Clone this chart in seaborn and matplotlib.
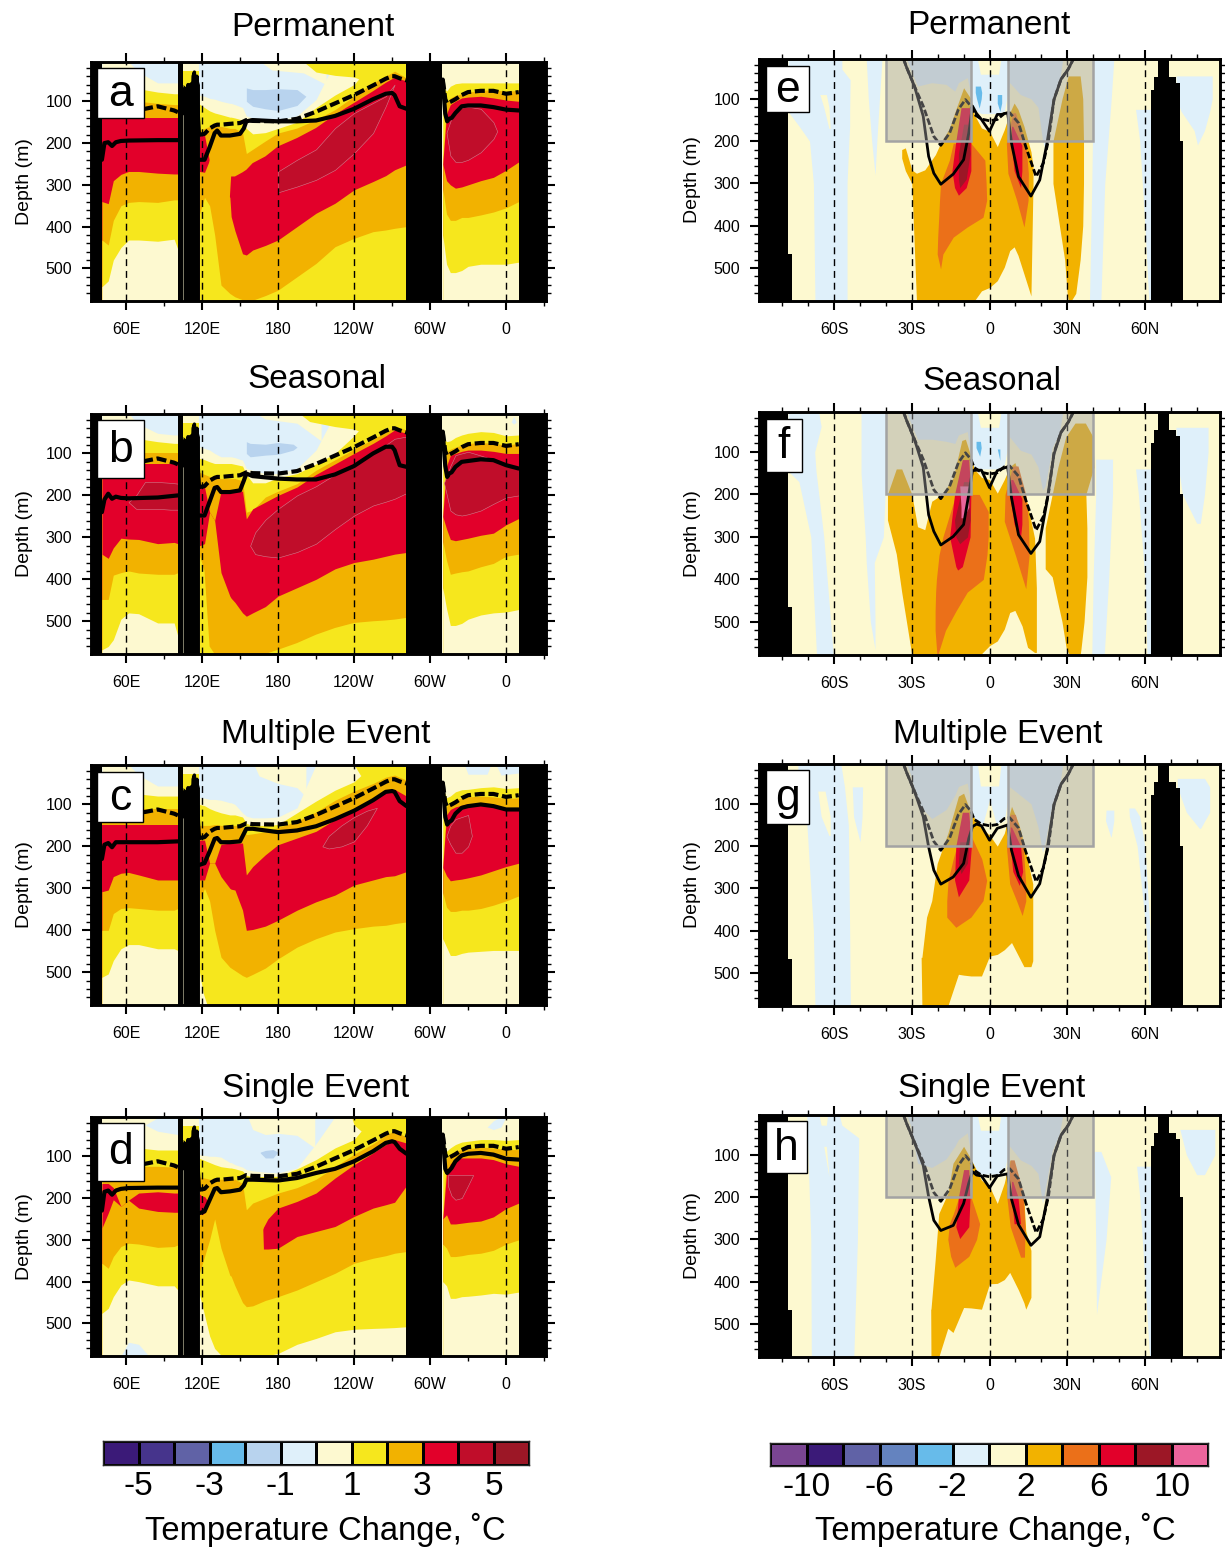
import numpy as np
import matplotlib
matplotlib.use("Agg")
import matplotlib.pyplot as plt
import seaborn as sns
from matplotlib.colors import ListedColormap
from matplotlib.patches import Rectangle
from matplotlib.ticker import MultipleLocator, FixedLocator

sns.set_style("ticks")
plt.rcParams["font.family"] = ["Liberation Sans", "DejaVu Sans"]
plt.rcParams["text.color"] = "black"
plt.rcParams["axes.labelcolor"] = "black"
plt.rcParams["xtick.color"] = "black"
plt.rcParams["ytick.color"] = "black"

W, H = 1225, 1547

# colour tables, one colour per 1 C (left) or 2 C (right) bin
LEFT_COLORS = ["#3b1a78", "#46348c", "#6062a6", "#67bbea", "#b8d3ee", "#dff0fa",
               "#fdf9d0", "#f6e71d", "#f2b200", "#e2002a", "#c00d2a", "#9c1726"]
RIGHT_COLORS = ["#7a4592", "#3b1a78", "#6062a6", "#6483bf", "#67bbea", "#dff0fa",
                "#fdf9d0", "#f2b200", "#eb7019", "#e2002a", "#9c1726", "#ec659c"]
LEFT_TICKS = [-5, -3, -1, 1, 3, 5]
RIGHT_TICKS = [-10, -6, -2, 2, 6, 10]

# ---------- equatorial section (left column): isotherm depths per basin ----------
IND_LON = [41, 46, 50, 56, 62, 70, 85, 98, 101]
PAC_LON = [118, 122, 126, 130, 135, 142, 143, 146, 152, 155, 160, 170, 180, 195, 210, 225, 240, 255, 265, 272, 281.4]
ATL_LON = [310, 313, 316, 320, 325, 330, 340, 350, 360, 370]
DEEP_PAC = [578] * 21

A_IND = [[5, 5, 5, 5, 5, 30, 56, 56, 56],
         [30, 30, 40, 50, 60, 70, 78, 82, 82],
         [100, 100, 100, 100, 100, 100, 105, 108, 108],
         [140, 140, 140, 140, 140, 140, 140, 140, 140],
         [340, 345, 290, 275, 268, 268, 272, 274, 274],
         [432, 444, 385, 350, 342, 340, 342, 336, 336],
         [544, 530, 480, 450, 432, 432, 435, 430, 455]]
B_IND = [[5, 5, 5, 5, 5, 30, 52, 56, 56],
         [30, 30, 40, 50, 60, 65, 72, 76, 76],
         [100, 100, 100, 100, 100, 100, 100, 100, 100],
         [155, 150, 135, 128, 124, 124, 124, 124, 124],
         [340, 350, 325, 302, 304, 305, 315, 312, 315],
         [448, 448, 390, 384, 380, 385, 388, 388, 384],
         [568, 560, 544, 495, 480, 482, 504, 504, 536]]
C_IND = [[5, 5, 5, 5, 5, 30, 56, 56, 56],
         [40, 40, 50, 60, 70, 75, 80, 80, 80],
         [112, 112, 112, 112, 112, 112, 112, 112, 112],
         [148, 148, 148, 148, 148, 148, 148, 148, 148],
         [308, 304, 272, 264, 262, 268, 280, 280, 280],
         [400, 400, 360, 348, 346, 348, 352, 352, 348],
         [512, 504, 472, 444, 434, 434, 444, 444, 448]]
D_IND = [[5, 5, 5, 5, 5, 5, 5, 5, 5],
         [50, 50, 60, 70, 75, 80, 85, 85, 85],
         [124, 124, 124, 124, 124, 124, 124, 126, 128],
         [165, 165, 175, 220, 205, 188, 185, 188, 188],
         [272, 236, 204, 220, 205, 224, 232, 234, 234],
         [356, 368, 340, 316, 308, 310, 318, 316, 312],
         [476, 464, 436, 408, 396, 400, 410, 410, 420]]

A_PAC = [[85, 88, 93, 95, 100, 105, 105, 108, 115, 135, 140, 145, 146, 135, 96, 5, 5, 5, 5, 5, 5],
         [107, 115, 123, 128, 132, 138, 138, 140, 145, 165, 178, 175, 165, 150, 115, 85, 60, 5, 5, 5, 5],
         [170, 165, 160, 160, 160, 165, 165, 165, 175, 225, 215, 195, 176, 164, 144, 120, 88, 56, 40, 28, 44],
         [176, 176, 240, 300, 300, 330, 280, 280, 270, 264, 248, 232, 208, 188, 164, 132, 104, 76, 56, 44, 52],
         [268, 270, 240, 300, 300, 330, 376, 410, 465, 468, 456, 445, 432, 400, 368, 344, 312, 292, 278, 264, 252],
         [370, 330, 350, 420, 540, 560, 562, 568, 575, 576, 576, 565, 552, 520, 488, 448, 428, 412, 408, 404, 400],
         DEEP_PAC]
B_PAC = [[84, 88, 92, 100, 108, 108, 108, 110, 116, 136, 140, 148, 148, 136, 92, 5, 5, 5, 5, 5, 5],
         [112, 115, 120, 124, 124, 124, 124, 126, 130, 150, 170, 170, 158, 148, 125, 100, 58, 5, 5, 5, 5],
         [145, 150, 155, 155, 160, 160, 160, 160, 165, 240, 235, 204, 190, 172, 140, 115, 90, 66, 50, 36, 44],
         [180, 180, 240, 260, 190, 190, 190, 190, 190, 256, 232, 216, 200, 180, 150, 125, 100, 76, 58, 44, 52],
         [320, 315, 240, 260, 384, 440, 445, 455, 480, 488, 480, 465, 440, 420, 400, 375, 360, 352, 345, 340, 336],
         [340, 380, 560, 578, 578, 578, 578, 578, 578, 578, 578, 578, 568, 552, 532, 516, 504, 500, 498, 496, 492],
         DEEP_PAC]
C_PAC = [[84, 85, 88, 88, 90, 96, 96, 100, 120, 128, 132, 132, 130, 108, 5, 5, 5, 5, 5, 5, 5],
         [100, 103, 110, 115, 120, 125, 125, 125, 130, 145, 150, 150, 148, 120, 92, 66, 46, 5, 5, 5, 5],
         [150, 150, 150, 148, 150, 150, 150, 150, 150, 172, 170, 165, 155, 140, 118, 90, 68, 50, 35, 30, 42],
         [185, 185, 240, 240, 195, 192, 192, 192, 192, 268, 248, 220, 196, 180, 164, 136, 112, 84, 72, 64, 80],
         [280, 280, 240, 240, 272, 300, 302, 304, 352, 400, 398, 390, 376, 352, 332, 316, 292, 280, 272, 270, 260],
         [330, 300, 330, 400, 464, 488, 490, 496, 508, 512, 505, 490, 468, 440, 420, 404, 396, 390, 388, 384, 380],
         DEEP_PAC]
D_RED_LINE = [200, 200, 220, 220, 230, 250, 250, 260, 300, 320, 320, 320, 320, 320, 300, 280, 250, 230, 215, 205, 190]
D_PAC = [[96, 98, 100, 100, 102, 115, 115, 120, 126, 132, 135, 138, 140, 128, 70, 5, 5, 5, 5, 5, 5],
         [105, 110, 115, 120, 125, 128, 128, 130, 135, 145, 150, 148, 148, 130, 108, 80, 60, 5, 5, 5, 5],
         [150, 152, 155, 155, 155, 155, 155, 155, 165, 228, 212, 200, 188, 175, 155, 125, 95, 70, 50, 38, 55],
         D_RED_LINE,
         D_RED_LINE,
         [380, 340, 300, 250, 320, 385, 387, 410, 450, 460, 458, 445, 436, 420, 400, 380, 356, 344, 338, 332, 328],
         [430, 480, 530, 560, 576, 578, 578, 578, 578, 578, 578, 578, 572, 550, 536, 520, 514, 512, 511, 510, 508]]

A_ATL = [[5] * 10,
         [60, 76, 64, 58, 56, 56, 56, 56, 56, 56],
         [240, 104, 92, 86, 82, 78, 74, 72, 76, 74],
         [250, 130, 108, 100, 92, 90, 88, 92, 97, 100],
         [250, 290, 300, 308, 305, 300, 290, 282, 265, 245],
         [310, 370, 385, 385, 378, 378, 372, 365, 355, 340],
         [420, 490, 510, 510, 505, 495, 490, 490, 490, 485]]
B_ATL = [[5] * 10,
         [60, 72, 70, 62, 56, 52, 48, 50, 58, 56],
         [240, 96, 90, 85, 80, 76, 74, 76, 80, 76],
         [250, 130, 105, 100, 95, 92, 92, 95, 100, 100],
         [250, 280, 305, 308, 305, 302, 295, 290, 270, 255],
         [310, 355, 388, 385, 382, 380, 370, 362, 345, 340],
         [420, 470, 510, 510, 505, 495, 485, 480, 478, 472]]
C_ATL = [[5] * 10,
         [60, 84, 80, 70, 65, 64, 60, 58, 62, 60],
         [240, 105, 95, 88, 85, 82, 80, 82, 86, 84],
         [250, 125, 112, 106, 102, 98, 98, 100, 108, 110],
         [250, 270, 282, 280, 278, 275, 268, 258, 248, 240],
         [310, 345, 355, 355, 352, 352, 348, 340, 330, 318],
         [420, 440, 460, 460, 455, 452, 450, 448, 448, 448]]
D_ATL = [[5] * 10,
         [60, 88, 80, 72, 66, 64, 60, 60, 62, 60],
         [240, 105, 95, 88, 84, 82, 78, 80, 84, 84],
         [250, 140, 118, 108, 104, 104, 104, 108, 118, 124],
         [250, 240, 262, 262, 260, 258, 255, 245, 225, 212],
         [310, 320, 340, 340, 338, 335, 332, 325, 310, 300],
         [400, 410, 440, 440, 436, 435, 432, 428, 430, 425]]

# patches on top of the layers: (bin, lon, top, bottom)
A_PATCHES = [(6, [166, 175, 200, 218], [0, 0, 0, 0], [5, 25, 32, 60]),
             (7, [200, 210, 225, 240, 255], [0, 0, 0, 0, 0], [5, 30, 38, 42, 60]),
             (4, [155, 160, 170, 180, 195, 202], [68, 72, 72, 70, 72, 88], [100, 112, 118, 122, 110, 88]),
             (10, [180, 195, 210, 225, 240, 255, 265, 272], [268, 240, 215, 164, 128, 104, 88, 60], [318, 304, 288, 264, 224, 176, 112, 60]),
             (10, [313, 316, 320, 325, 330, 340, 350, 353], [175, 148, 125, 115, 113, 118, 150, 172], [175, 230, 245, 245, 240, 222, 190, 172])]
B_PATCHES = [(6, [163, 170, 195, 214], [0, 0, 0, 0], [5, 18, 28, 70]),
             (7, [197, 205, 225, 240, 255], [0, 0, 0, 0, 0], [5, 24, 36, 42, 60]),
             (4, [155, 158, 170, 180, 192, 195], [72, 76, 78, 74, 78, 85], [100, 108, 104, 102, 92, 85]),
             (10, [158, 162, 170, 180, 195, 210, 225, 240, 255, 265, 272, 281], [320, 288, 258, 232, 200, 178, 150, 128, 100, 80, 65, 60], [320, 340, 345, 348, 335, 315, 280, 248, 224, 215, 208, 195]),
             (10, [62, 68, 75, 85, 95, 101], [216, 200, 168, 168, 170, 172], [216, 232, 232, 232, 234, 234]),
             (10, [311, 316, 320, 325, 330, 340, 350, 360, 370], [170, 130, 104, 100, 96, 105, 115, 128, 136], [170, 236, 245, 248, 245, 236, 220, 205, 200]),
             (5, [364, 366, 368], [25, 12, 25], [25, 30, 25])]
C_PATCHES = [(6, [161, 165, 180, 195, 202], [0, 0, 0, 0, 0], [5, 32, 50, 60, 82]),
             (7, [240, 245, 255], [0, 0, 0], [5, 30, 50]),
             (6, [118, 121, 124], [500, 550, 578], [578, 578, 578]),
             (10, [215, 220, 230, 240, 250, 258], [200, 175, 150, 130, 115, 108], [200, 205, 200, 188, 150, 108]),
             (10, [313, 316, 320, 325, 330, 333], [175, 150, 135, 130, 125, 175], [175, 195, 215, 215, 200, 175]),
             (5, [327, 330, 345, 348], [0, 0, 0, 0], [5, 28, 28, 5]),
             (5, [352, 356, 370], [0, 0, 0], [5, 30, 25])]
D_PATCHES = [(6, [156, 160, 170, 180, 195, 209], [0, 0, 0, 0, 0, 0], [5, 36, 48, 45, 50, 80]),
             (7, [238, 240, 245, 255], [0, 0, 0, 0], [5, 25, 38, 60]),
             (4, [166, 170, 176, 180], [90, 86, 84, 90], [92, 104, 104, 90]),
             (9, [168, 168.5, 172, 180, 195, 210, 225, 240, 255, 265, 272, 281], [275, 270, 250, 224, 208, 188, 152, 120, 92, 72, 60, 68], [275, 322, 322, 320, 292, 280, 268, 244, 224, 216, 210, 172]),
             (9, [118, 120, 122, 124], [190, 196, 196, 205], [235, 240, 235, 205]),
             (5, [75, 85, 95, 101], [25, 8, 0, 0], [25, 40, 45, 48]),
             (5, [56, 62, 70, 78], [578, 545, 550, 578], [578, 578, 578, 578]),
             (5, [345, 350, 356, 360], [30, 15, 5, 5], [30, 36, 30, 5]),
             (10, [314, 317, 320, 325, 330, 334], [145, 145, 145, 145, 145, 145], [170, 195, 204, 200, 170, 145])]

GAP_LON = [105, 118]
GAP_CREAM = [28, 28]
GAP_YELLOW = [70, 70]

LAND_WEST_LON = [32, 41]
LAND_MID_LON = [101, 105]
LAND_JAG_LON = [105, 107, 110, 112, 114, 116, 118]
LAND_JAG_TOP = [60, 65, 55, 50, 33, 38, 60]
LAND_AM_LON = [281.4, 309.6]
LAND_EAST_LON = [370, 392]

# 20C isotherm: solid for the run, dashed for the control
JAG_LON = [104, 105, 106, 107, 108, 109, 110, 111, 112, 113, 114, 115, 116, 117, 118]
JAG_DEPTH = [125, 70, 130, 75, 130, 60, 130, 60, 130, 40, 30, 120, 40, 130, 180]
IND_DASH_LON = [41, 60, 75, 85, 98, 101]
IND_DASH = [120, 122, 118, 112, 122, 126]
IND_LINE_LON = [41, 43, 46, 49, 52, 56, 62, 85, 101]
A_IND_LINE = [240, 200, 198, 207, 198, 195, 194, 193, 193]
B_IND_LINE = [240, 210, 196, 208, 203, 206, 207, 205, 200]
C_IND_LINE = [230, 196, 192, 202, 190, 190, 190, 190, 188]
D_IND_LINE = [230, 185, 182, 192, 182, 178, 176, 175, 175]
PAC_LINE_LON = [118, 122, 126, 130, 132, 135, 142, 150, 153, 155, 160, 180, 195, 210, 225, 240, 255, 265, 270, 272, 276, 281.4]
PAC_DASH = [180, 178, 165, 158, 156, 156, 154, 152, 148, 145, 147, 148, 142, 125, 105, 85, 62, 46, 40, 40, 45, 50]
A_PAC_LINE = [240, 240, 210, 176, 170, 182, 182, 178, 165, 148, 145, 148, 148, 146, 135, 118, 95, 82, 80, 85, 112, 118]
B_PAC_LINE = [248, 248, 215, 182, 180, 192, 192, 188, 165, 148, 154, 160, 162, 162, 150, 130, 100, 84, 84, 92, 128, 132]
C_PAC_LINE = [244, 240, 212, 182, 180, 190, 190, 188, 170, 158, 158, 166, 162, 152, 135, 115, 90, 70, 68, 70, 92, 104]
D_PAC_LINE = [236, 232, 205, 178, 176, 186, 184, 180, 170, 156, 156, 158, 152, 140, 130, 112, 88, 68, 64, 66, 82, 94]
ATL_LINE_LON = [310, 311, 312, 313.5, 315, 317, 320, 325, 330, 340, 350, 360, 370]
ATL_DASH = [48, 70, 95, 105, 103, 100, 95, 85, 78, 75, 75, 82, 78]
A_ATL_LINE = [48, 90, 130, 148, 142, 140, 128, 112, 110, 110, 114, 120, 122]
B_ATL_LINE = [48, 90, 130, 156, 148, 145, 132, 120, 118, 114, 116, 128, 136]
C_ATL_LINE = [48, 90, 130, 148, 142, 138, 122, 108, 104, 100, 104, 112, 112]
D_ATL_LINE = [48, 90, 130, 140, 135, 128, 112, 98, 94, 92, 96, 106, 108]

# ---------- meridional section (right column) ----------
# "v" patches: (bin, depth, south edge, north edge); "h" patches: (bin, lat, top, bottom)
BLUE_C_LAT = [-32, -30.5, -27.8, -22.3, -16.8, -13.4, -12, -8.6, -7.2, -6.6, -3.1, 3, 5.7, 7.8, 11.9, 16, 18.7, 20.5, 21.5, 24.2, 27, 28.3]
E_BLUE_C = [6, 30, 70, 62, 66, 82, 62, 50, 90, 125, 135, 135, 130, 62, 90, 100, 120, 200, 220, 100, 62, 6]
F_BLUE_C = [6, 30, 70, 70, 75, 80, 60, 52, 110, 135, 140, 140, 130, 65, 96, 105, 135, 190, 180, 90, 55, 6]
G_BLUE_C = [6, 30, 100, 135, 114, 80, 59, 51, 100, 140, 146, 146, 140, 60, 80, 100, 154, 215, 190, 100, 60, 6]
H_BLUE_C = [6, 30, 120, 130, 110, 80, 64, 48, 100, 140, 146, 146, 140, 80, 112, 125, 144, 215, 180, 90, 50, 6]

E_ORANGE_LAT = [-33.9, -32.5, -30, -28.2, -25, -20.9, -18.9, -15.5, -12.7, -10, -7.2, -5.9, -3.1, 0, 3, 5.7, 7.8, 9.5, 11, 13.3, 16, 16.8]
E_ORANGE_TOP = [220, 216, 268, 276, 268, 232, 205, 170, 120, 74, 100, 137, 169, 177, 213, 173, 133, 110, 125, 165, 225, 260]
E_ORANGE_BOT = [240, 270, 300, 578, 578, 578, 578, 578, 578, 578, 578, 578, 554, 546, 530, 498, 459, 450, 470, 514, 566, 300]
F_ORANGE_LAT = [-39.4, -36, -33.9, -30, -27.8, -25, -22.3, -18.2, -14, -10.7, -9.3, -7.2, -5.9, -3.1, 0, 3, 5.7, 7.8, 9.8, 12.6, 14.7, 17.4, 18.1]
F_ORANGE_TOP = [200, 140, 140, 200, 276, 283, 216, 200, 160, 73, 70, 110, 140, 160, 165, 197, 165, 135, 125, 176, 224, 303, 420]
F_ORANGE_BOT = [260, 340, 430, 578, 578, 578, 578, 578, 578, 578, 578, 578, 578, 575, 556, 545, 517, 478, 473, 510, 560, 572, 572]
G_ORANGE_LAT = [-26.4, -26.1, -24.3, -22.3, -20.2, -16.1, -12, -10, -7.2, -3.1, 0, 3, 5.7, 8.5, 11.2, 13.3, 16, 16.7]
G_ORANGE_TOP = [463, 463, 368, 329, 241, 170, 82, 75, 122, 158, 174, 200, 170, 106, 146, 194, 270, 289]
G_ORANGE_BOT = [463, 578, 578, 578, 578, 578, 503, 505, 507, 507, 460, 456, 445, 428, 460, 485, 485, 471]
H_ORANGE_LAT = [-22.7, -22.6, -21, -19.6, -16.1, -14.1, -10, -7.2, -3.1, 0, 3, 5.7, 7.8, 11.2, 13.3, 14, 16]
H_ORANGE_TOP = [465, 465, 350, 239, 191, 120, 80, 110, 160, 175, 215, 167, 112, 152, 207, 280, 326]
H_ORANGE_BOT = [465, 578, 578, 578, 510, 520, 461, 462, 465, 405, 404, 395, 378, 420, 450, 465, 437]

E_PATCHES = [("v", 5, [6, 30, 55, 130, 165, 200, 300, 578], [-77.8, -77.8, -77.8, -77.8, -73.5, -69.5, -68, -67.4], [-57, -57, -53.8, -54, -54, -54.3, -55, -55]),
             ("v", 6, [90, 120, 170], [-65.5, -64, -62], [-63, -62, -61.5]),
             ("v", 5, [6, 100, 200, 280], [-47.6, -46.8, -45.5, -44.2], [-41.5, -42.5, -43.5, -44.2]),
             ("v", 5, [6, 100, 300, 578], [40, 40, 39.5, 38.6], [48, 47, 44.5, 43]),
             ("v", 5, [125, 200, 400, 578], [56.4, 58, 60, 61.5], [62.2, 62.2, 62.2, 62.2]),
             ("v", 5, [46, 100, 130, 175, 209], [72, 72, 74, 79, 80.3], [86, 86, 85, 83, 80.3]),
             ("h", 5, BLUE_C_LAT, [0] * 22, E_BLUE_C),
             ("h", 6, [-4.7, -3.5, 3.5, 4.4], [0, 0, 0, 0], [6, 42, 42, 6]),
             ("h", 7, E_ORANGE_LAT, E_ORANGE_TOP, E_ORANGE_BOT),
             ("v", 7, [46, 100, 200, 300, 400, 480, 560, 578], [30.4, 28, 24.5, 24.5, 27, 29, 30, 30.5], [35, 36, 36.3, 36.3, 36, 35, 33.3, 31.5]),
             ("v", 8, [205, 245, 300, 340, 380, 403, 427, 467, 502], [-14, -15.5, -18.9, -19.3, -19.6, -19.8, -20, -20.2, -18.9], [-7.2, -1.8, -1.3, -1.1, -2.5, -8.6, -14, -18, -18.9]),
             ("v", 8, [133, 205, 276, 340, 403], [9, 6.5, 7.1, 10.5, 13.3], [10, 14, 15, 14.9, 13.3]),
             ("v", 9, [121, 200, 270, 310, 328], [-11, -13, -14.5, -13.5, -12], [-7.5, -7.2, -7.2, -9, -12]),
             ("v", 10, [160, 230, 290, 310], [-10, -12, -12, -11.5], [-8.5, -7.5, -9, -11.5]),
             ("v", 9, [165, 210, 270, 310], [8.5, 8.5, 9.5, 12], [9, 12.5, 12.5, 12]),
             ("v", 4, [70, 85, 100, 122], [-5.5, -5.5, -5, -4], [-3.5, -3, -3.2, -4]),
             ("v", 4, [90, 110, 130], [3, 3, 4], [4.7, 4.7, 4])]
F_PATCHES = [("v", 5, [6, 40, 100, 145, 170, 300, 578], [-77.8, -77.8, -77.8, -77.8, -73.6, -69, -66.8], [-66, -65, -67.5, -67, -66.5, -64, -60.3]),
             ("v", 5, [6, 150, 300, 360, 500, 565], [-49.6, -49.6, -48, -47.6, -46, -44.2], [-40, -40, -41, -44.5, -44.2, -44.2]),
             ("v", 5, [117, 200, 400, 578], [41, 41, 40, 39.5], [47.5, 47.5, 46, 44.3]),
             ("v", 5, [140, 200, 400, 578], [56.4, 57.5, 60, 60.8], [62.2, 62.2, 62.2, 62.2]),
             ("v", 5, [42, 100, 200, 268], [72, 72, 74.5, 80], [84.4, 84.4, 83, 81.4]),
             ("h", 5, BLUE_C_LAT, [0] * 22, F_BLUE_C),
             ("h", 6, [-4.7, -3.5, 3.5, 4.4], [0, 0, 0, 0], [6, 42, 42, 6]),
             ("h", 7, F_ORANGE_LAT, F_ORANGE_TOP, F_ORANGE_BOT),
             ("v", 7, [32, 65, 136, 200, 279, 375, 394, 500, 565, 578], [33, 29.4, 26.4, 24.2, 21.5, 21.5, 24.2, 28, 29.7, 31], [37, 40, 40.3, 37.2, 37.6, 37.6, 37.6, 36.5, 35.3, 35]),
             ("v", 8, [200, 240, 300, 343, 400, 430, 475, 520, 578], [-13, -15, -18, -19.5, -20.5, -20.8, -21, -21, -20.3], [-4, -0.5, -0.5, -1, -2.4, -8.6, -13, -17, -20]),
             ("v", 8, [133, 200, 263, 343, 422], [9, 6, 5.7, 10, 14], [11, 14, 15, 15.3, 14]),
             ("v", 9, [118, 200, 300, 370, 378], [-10.5, -13.5, -15.4, -13, -12.3], [-8, -7.2, -7.5, -10.5, -12.3]),
             ("v", 10, [170, 260, 300, 316], [-10, -13.5, -13, -11.5], [-8, -7.5, -8.5, -11.5]),
             ("v", 11, [180, 230, 255], [-11.5, -11, -11], [-8, -8, -10]),
             ("v", 9, [165, 210, 270, 300], [8.2, 8, 9.5, 12], [9, 12.5, 12.5, 12]),
             ("v", 4, [75, 90, 110], [-5.2, -5.2, -3.8], [-3.5, -3.2, -3.8]),
             ("v", 4, [93, 120], [3, 4], [4, 4])]
G_PATCHES = [("v", 5, [6, 60, 150, 400, 578], [-74, -74, -70.5, -68, -67.4], [-57.4, -56, -54.5, -54, -53.7]),
             ("v", 6, [70, 130, 175], [-66.3, -65, -62], [-63.5, -61.5, -61.5]),
             ("v", 5, [60, 130, 190], [-53, -52.5, -50], [-49, -49.2, -50]),
             ("v", 5, [115, 140, 178], [45, 44.8, 46.8], [48, 48, 47]),
             ("v", 5, [110, 130, 200, 400, 570], [53.8, 54, 57, 60.5, 61.8], [56, 58, 60, 62, 62]),
             ("v", 5, [40, 60, 120, 158], [72.5, 72.5, 76, 81], [83, 85, 85, 81.5]),
             ("h", 5, BLUE_C_LAT, [0] * 22, G_BLUE_C),
             ("h", 6, [-4.7, -3.5, 3.5, 4.4], [0, 0, 0, 0], [6, 58, 58, 6]),
             ("h", 6, [-2.5, 0, 2.5], [146, 90, 146], [146, 146, 146]),
             ("h", 7, G_ORANGE_LAT, G_ORANGE_TOP, G_ORANGE_BOT),
             ("v", 8, [165, 230, 281, 329, 368, 392], [-11, -14, -16, -16.5, -16.5, -13], [-8, -3, -1.1, -2.5, -7.2, -13]),
             ("v", 8, [125, 200, 289, 330, 364], [8, 6.5, 7.8, 10.5, 12.6], [10, 13, 14, 14, 12.6]),
             ("v", 9, [120, 200, 280, 320], [-10.5, -13, -13.5, -12], [-8, -7, -8, -12]),
             ("v", 10, [190, 240, 265], [-11.5, -12, -11], [-8, -8.5, -11]),
             ("v", 9, [155, 200, 260, 293], [8, 8, 9, 11.5], [8.5, 12, 12.8, 11.5])]
H_PATCHES = [("v", 5, [6, 30, 60, 300, 578], [-70.5, -70.5, -70.3, -69, -68.8], [-58, -57, -50.5, -51, -52.4]),
             ("v", 6, [6, 30], [-65.8, -65], [-62.5, -63]),
             ("v", 6, [80, 152], [-64, -62], [-63, -62]),
             ("v", 5, [92, 152, 300, 477], [40.4, 40.6, 41, 41.3], [43, 46.8, 45, 41.3]),
             ("v", 5, [127, 200, 400, 578], [56.8, 58, 60, 61.8], [62.2, 62.2, 62.2, 62.2]),
             ("v", 5, [40, 100, 147], [73.5, 76, 80], [87, 87, 83]),
             ("h", 5, BLUE_C_LAT, [0] * 22, H_BLUE_C),
             ("h", 6, [-4.7, -3.5, 3.5, 4.4], [0, 0, 0, 0], [6, 42, 42, 6]),
             ("h", 7, H_ORANGE_LAT, H_ORANGE_TOP, H_ORANGE_BOT),
             ("v", 8, [175, 240, 263, 300, 340, 366], [-10.5, -14, -15.5, -16.1, -15, -13.4], [-8.5, -5, -3.8, -5, -8, -13.4]),
             ("v", 8, [112, 190, 270, 342], [8, 6.5, 8, 12], [9.5, 13, 13.7, 13.5]),
             ("v", 9, [135, 200, 270, 298], [-10, -12, -13, -11.5], [-8, -7.5, -8, -11.5]),
             ("v", 9, [163, 200, 263], [8.5, 8.5, 9.5], [9, 11, 12])]

LAND_S_LAT = [-89, -77.8, -77.8, -76.3]
LAND_S_TOP = [0, 0, 466, 466]
LAND_N_LAT = [62.2, 63.6, 63.6, 65.2, 65.2, 69.2, 69.2, 72, 72, 73.4, 73.4, 74.7]
LAND_N_TOP = [80, 80, 48, 48, 0, 0, 48, 48, 62, 62, 200, 200]

MER_LINE_LAT = [-33.2, -32, -29, -25.6, -23.5, -21.5, -18.8, -14, -10, -8, -6.6, -5, -3.1, 0, 3, 4.6, 7, 8.5, 11.2, 16, 19.4, 22.2, 24.9, 27.6, 30.4, 32.4]
E_LINE = [6, 26, 70, 141, 236, 276, 302, 278, 244, 181, 117, 135, 149, 177, 137, 137, 133, 205, 284, 330, 292, 205, 102, 54, 30, 6]
F_LINE = [6, 26, 70, 136, 248, 287, 319, 299, 271, 200, 144, 143, 143, 184, 144, 140, 135, 208, 295, 339, 311, 216, 105, 54, 30, 6]
G_LINE = [6, 26, 70, 130, 202, 257, 290, 273, 241, 182, 154, 148, 152, 186, 158, 155, 150, 210, 270, 321, 289, 210, 102, 54, 30, 6]
H_LINE = [6, 26, 70, 125, 199, 255, 279, 267, 215, 167, 140, 148, 150, 178, 150, 148, 145, 205, 265, 314, 294, 207, 102, 54, 30, 6]
MER_DASH_LAT = [-33.2, -32, -29, -25.6, -21.5, -18.8, -15.4, -12, -9.3, -7.2, -5.9, -3.1, 0, 3, 5.7, 7.8, 11.2, 14, 18, 20.8, 22.8, 24.9, 27.6, 30.4, 32.4]
MER_DASH = [6, 26, 70, 117, 189, 210, 181, 125, 102, 117, 137, 148, 152, 149, 135, 133, 157, 213, 284, 252, 197, 102, 54, 30, 6]

BOX_SOUTH = [-40, -7]
BOX_NORTH = [7, 40]
BOX_DEPTH = 200

EQ_TICKS = [60, 120, 180, 240, 300, 360]
EQ_LABELS = ["60E", "120E", "180", "120W", "60W", "0"]
MER_TICKS = [-60, -30, 0, 30, 60]
MER_LABELS = ["60S", "30S", "0", "30N", "60N"]
DEPTH_TICKS = [100, 200, 300, 400, 500]

# pixel layout: x0, x1, y0, y1
LEFT_PANELS = [
    ("a", "Permanent", (91, 546, 62, 301), (97, 144, 68, 118), 313, 24, A_IND, A_PAC, A_ATL, A_PATCHES, A_IND_LINE, A_PAC_LINE, A_ATL_LINE),
    ("b", "Seasonal", (91, 546, 414, 654), (97, 144, 420, 478), 317, 376, B_IND, B_PAC, B_ATL, B_PATCHES, B_IND_LINE, B_PAC_LINE, B_ATL_LINE),
    ("c", "Multiple Event", (91, 546, 765, 1005), (97, 143, 772, 822), 326, 731, C_IND, C_PAC, C_ATL, C_PATCHES, C_IND_LINE, C_PAC_LINE, C_ATL_LINE),
    ("d", "Single Event", (91, 546, 1117, 1356), (97, 144, 1123, 1181), 316, 1086, D_IND, D_PAC, D_ATL, D_PATCHES, D_IND_LINE, D_PAC_LINE, D_ATL_LINE),
]
RIGHT_PANELS = [
    ("e", "Permanent", (759, 1220, 59, 301), (766, 809, 66, 112), 989, 23, E_PATCHES, E_LINE),
    ("f", "Seasonal", (759, 1220, 412, 655), (766, 802, 419, 472), 992, 378, F_PATCHES, F_LINE),
    ("g", "Multiple Event", (759, 1220, 764, 1006), (766, 809, 770, 824), 998, 731, G_PATCHES, G_LINE),
    ("h", "Single Event", (759, 1220, 1115, 1357), (766, 807, 1121, 1173), 992, 1086, H_PATCHES, H_LINE),
]


def new_axes(fig, box):
    x0, x1, y0, y1 = box
    return fig.add_axes([x0 / W, 1 - y1 / H, (x1 - x0) / W, (y1 - y0) / H])


def style_axes(ax, ticks, labels, minor, xlim):
    ax.set_xlim(*xlim)
    ax.set_ylim(578, 6)
    ax.set_xticks(ticks)
    ax.set_xticklabels(labels)
    ax.set_yticks(DEPTH_TICKS)
    ax.xaxis.set_minor_locator(FixedLocator(minor))
    ax.yaxis.set_minor_locator(MultipleLocator(20))
    ax.tick_params(which="major", direction="out", length=6.5, width=1.5, top=True, right=True,
                   labelsize=11.5, pad=8.7, colors="black")
    ax.tick_params(which="minor", direction="out", length=3.5, width=1, top=True, right=True)
    ax.tick_params(axis="y", which="major", pad=7)
    ax.set_xlabel("")
    ax.set_ylabel("Depth (m)", fontsize=14)
    # label sits by its bottom edge, so this is a little right of the text centre
    ax.yaxis.set_label_coords(-58 / (ax.get_position().width * W), 0.5)
    for s in ax.spines.values():
        s.set_visible(True)
        s.set_linewidth(2.1)
        s.set_color("black")
        s.set_zorder(8)


def label_box(ax, fig, letter, box):
    x0, x1, y0, y1 = box
    fig.add_artist(Rectangle((x0 / W, 1 - y1 / H), (x1 - x0) / W, (y1 - y0) / H, transform=fig.transFigure,
                             facecolor="white", edgecolor="black", linewidth=1, zorder=10))
    fig.text((x0 + x1) / 2 / W, 1 - ((y0 + y1) / 2 + 1) / H, letter, fontsize=32, ha="center", va="center", zorder=11)


def line(ax, x, y, dashed=False, lw=3.0):
    sns.lineplot(x=x, y=y, ax=ax, color="black", linewidth=lw, sort=False, estimator=None, errorbar=None,
                 linestyle=(0, (2.4, 0.9)) if dashed else "-", zorder=5)


def patch_h(ax, colors, band, x, top, bot):
    ax.fill_between(x, top, bot, color=colors[band], linewidth=0, zorder=2)


def draw_layers(ax, lon, interfaces):
    # top to bottom: -1..0, 0..1, 1..2, 2..3, 3..4, 2..3, 1..2, 0..1
    # each layer runs to the bottom and the next paints over it, so no seams
    bands = [5, 6, 7, 8, 9, 8, 7, 6]
    edges = [np.zeros(len(lon))] + [np.asarray(i, float) for i in interfaces]
    for k, band in enumerate(bands):
        # skip stretches where the layer has no thickness, else a hairline shows
        if k + 1 < len(edges):
            thick = edges[k + 1] > edges[k]
            keep = thick | np.r_[thick[1:], False] | np.r_[False, thick[:-1]]
        else:
            keep = np.ones(len(lon), bool)
        ax.fill_between(lon, edges[k], 578, where=keep, color=LEFT_COLORS[band], linewidth=0, zorder=1)


def land(ax, x, top):
    ax.fill_between(x, top, 578, color="black", linewidth=0, zorder=4)


fig = plt.figure(figsize=(W / 100, H / 100), dpi=100, facecolor="white")

for letter, title, box, lab, tx, ty, ind, pac, atl, patches, l_ind, l_pac, l_atl in LEFT_PANELS:
    ax = new_axes(fig, box)
    ax.set_facecolor(LEFT_COLORS[6])
    draw_layers(ax, IND_LON, ind)
    draw_layers(ax, PAC_LON, pac)
    draw_layers(ax, ATL_LON, atl)
    ax.fill_between(GAP_LON, 0, GAP_CREAM, color=LEFT_COLORS[6], linewidth=0, zorder=1)
    ax.fill_between(GAP_LON, GAP_CREAM, GAP_YELLOW, color=LEFT_COLORS[7], linewidth=0, zorder=1)
    for band, x, top, bot in patches:
        if band == 10:
            ax.fill_between(x, top, bot, facecolor=LEFT_COLORS[band], edgecolor="#d07f8e", linewidth=0.4, zorder=2)
        else:
            patch_h(ax, LEFT_COLORS, band, x, top, bot)
    for t in EQ_TICKS:
        ax.axvline(t, color="black", lw=1, linestyle=(0, (5, 3.5)), zorder=3)
    land(ax, LAND_WEST_LON, 0)
    land(ax, LAND_MID_LON, 0)
    land(ax, LAND_JAG_LON, LAND_JAG_TOP)
    land(ax, LAND_AM_LON, 0)
    land(ax, LAND_EAST_LON, 0)
    line(ax, JAG_LON, JAG_DEPTH, lw=2.4)
    line(ax, IND_DASH_LON, IND_DASH, dashed=True)
    line(ax, PAC_LINE_LON, PAC_DASH, dashed=True)
    line(ax, ATL_LINE_LON, ATL_DASH, dashed=True)
    line(ax, IND_LINE_LON, l_ind)
    line(ax, PAC_LINE_LON, l_pac)
    line(ax, ATL_LINE_LON, l_atl)
    style_axes(ax, EQ_TICKS, EQ_LABELS, [90, 150, 210, 270, 330, 390], (32.4, 391.5))
    label_box(ax, fig, letter, lab)
    fig.text(tx / W, 1 - (ty + 3) / H, title, fontsize=24, ha="center", va="center")

for letter, title, box, lab, tx, ty, patches, l_mer in RIGHT_PANELS:
    ax = new_axes(fig, box)
    ax.set_facecolor(RIGHT_COLORS[6])
    for kind, band, a, b, c in patches:
        if kind == "v":
            ax.fill_betweenx(a, b, c, color=RIGHT_COLORS[band], linewidth=0, zorder=2)
        else:
            patch_h(ax, RIGHT_COLORS, band, a, b, c)
    for t in MER_TICKS:
        ax.axvline(t, color="black", lw=1, linestyle=(0, (5, 3.5)), zorder=3)
    land(ax, LAND_S_LAT, LAND_S_TOP)
    land(ax, LAND_N_LAT, LAND_N_TOP)
    line(ax, MER_DASH_LAT, MER_DASH, dashed=True, lw=2.0)
    line(ax, MER_LINE_LAT, l_mer, lw=2.0)
    for sec in (BOX_SOUTH, BOX_NORTH):
        ax.add_patch(Rectangle((sec[0], 0), sec[1] - sec[0], BOX_DEPTH, facecolor="#9f9f9f", alpha=0.44,
                               edgecolor="none", zorder=6))
        ax.add_patch(Rectangle((sec[0], 0), sec[1] - sec[0], BOX_DEPTH, facecolor="none",
                               edgecolor="#a3a3a3", linewidth=1.8, zorder=7))
    style_axes(ax, MER_TICKS, MER_LABELS, np.arange(-80, 90, 10), (-89, 89))
    label_box(ax, fig, letter, lab)
    fig.text(tx / W, 1 - (ty + 3) / H, title, fontsize=24, ha="center", va="center")


def color_bar(box, colors, ticks, to_pos, xlabel_x):
    cax = new_axes(fig, box)
    sns.heatmap(np.arange(12).reshape(1, 12), cmap=ListedColormap(colors), cbar=False, linewidths=0.8,
                linecolor="black", ax=cax, yticklabels=False)
    cax.set_xticks([to_pos(t) for t in ticks])
    cax.set_xticklabels([str(t) for t in ticks], rotation=0, fontsize=24)
    cax.tick_params(axis="x", length=0, pad=4)
    cax.tick_params(axis="y", length=0)
    for s in cax.spines.values():
        s.set_visible(True)
        s.set_linewidth(1)
    fig.text(xlabel_x / W, 1 - 1530 / H, "Temperature Change, ˚C", fontsize=23.6, ha="center", va="center")


color_bar((103, 529, 1441, 1465), LEFT_COLORS, LEFT_TICKS, lambda t: t + 6, 325)
color_bar((770, 1208, 1443, 1466), RIGHT_COLORS, RIGHT_TICKS, lambda t: (t + 12) / 2, 995)

fig.savefig("out.png", dpi=100)
